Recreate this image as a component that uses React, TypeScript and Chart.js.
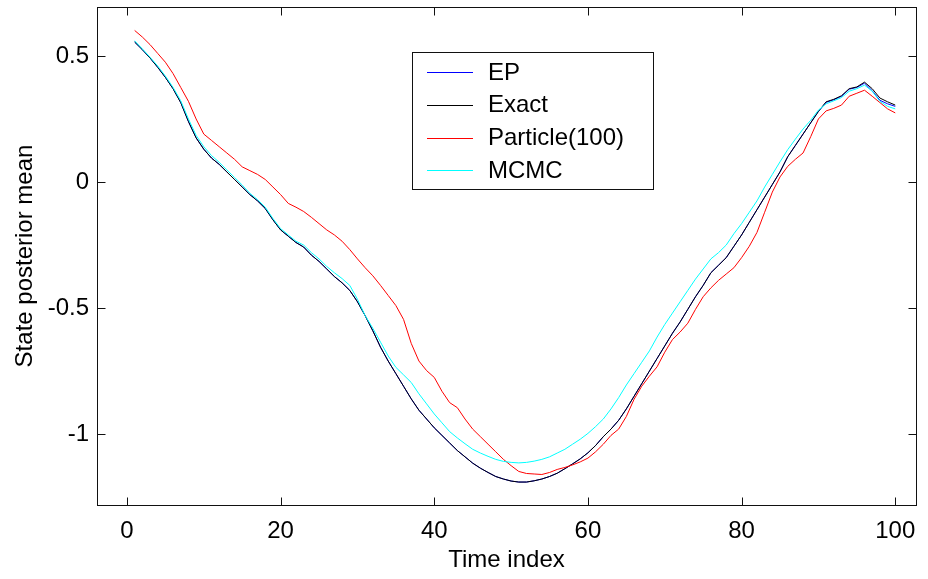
import React, { useEffect, useRef } from "react";
import { Chart, registerables } from "chart.js";

Chart.register(...registerables);

const timeIndex = Array.from({ length: 100 }, (_, i) => i + 1);

const exactMean = [
  0.555, 0.525, 0.492, 0.455, 0.415, 0.37, 0.315, 0.24, 0.175, 0.13,
  0.095, 0.07, 0.04, 0.01, -0.02, -0.05, -0.075, -0.105, -0.15, -0.19,
  -0.215, -0.24, -0.258, -0.29, -0.315, -0.345, -0.375, -0.4, -0.43, -0.475,
  -0.53, -0.59, -0.655, -0.71, -0.76, -0.81, -0.86, -0.905, -0.94, -0.975,
  -1.005, -1.035, -1.065, -1.09, -1.115, -1.135, -1.152, -1.168, -1.178, -1.186,
  -1.19, -1.19, -1.185, -1.178, -1.168, -1.155, -1.137, -1.118, -1.098, -1.074,
  -1.045, -1.01, -0.98, -0.945, -0.9, -0.85, -0.8, -0.75, -0.7, -0.65,
  -0.6, -0.555, -0.505, -0.455, -0.41, -0.36, -0.33, -0.3, -0.255, -0.21,
  -0.16, -0.11, -0.06, -0.01, 0.04, 0.1, 0.145, 0.19, 0.235, 0.28,
  0.318, 0.328, 0.342, 0.37, 0.377, 0.396, 0.37, 0.333, 0.318, 0.305,
];

const epMean = [
  0.555, 0.525, 0.492, 0.455, 0.415, 0.37, 0.315, 0.24, 0.175, 0.13,
  0.095, 0.07, 0.04, 0.01, -0.02, -0.05, -0.075, -0.105, -0.15, -0.19,
  -0.215, -0.24, -0.258, -0.29, -0.315, -0.345, -0.375, -0.4, -0.43, -0.475,
  -0.53, -0.59, -0.655, -0.71, -0.76, -0.81, -0.86, -0.905, -0.94, -0.975,
  -1.005, -1.035, -1.065, -1.09, -1.115, -1.135, -1.152, -1.168, -1.178, -1.186,
  -1.19, -1.19, -1.185, -1.178, -1.168, -1.155, -1.137, -1.118, -1.098, -1.074,
  -1.045, -1.01, -0.98, -0.945, -0.9, -0.85, -0.8, -0.75, -0.7, -0.65,
  -0.6, -0.555, -0.505, -0.455, -0.41, -0.36, -0.33, -0.3, -0.255, -0.21,
  -0.16, -0.11, -0.06, -0.01, 0.04, 0.1, 0.145, 0.19, 0.235, 0.28,
  0.316, 0.326, 0.34, 0.368, 0.375, 0.392, 0.362, 0.324, 0.31, 0.3,
];

const particleMean = [
  0.601, 0.575, 0.545, 0.51, 0.475, 0.43, 0.375, 0.32, 0.25, 0.19,
  0.165, 0.14, 0.115, 0.09, 0.06, 0.045, 0.03, 0.01, -0.02, -0.05,
  -0.085, -0.1, -0.117, -0.14, -0.165, -0.19, -0.21, -0.235, -0.268, -0.305,
  -0.34, -0.372, -0.41, -0.45, -0.49, -0.545, -0.64, -0.71, -0.748, -0.775,
  -0.83, -0.875, -0.895, -0.94, -0.98, -1.01, -1.04, -1.07, -1.1, -1.125,
  -1.148, -1.156, -1.158, -1.16, -1.152, -1.14, -1.132, -1.122, -1.11, -1.095,
  -1.07, -1.04, -1.005, -0.98, -0.93, -0.862, -0.81, -0.77, -0.733, -0.675,
  -0.625, -0.595, -0.56, -0.505, -0.455, -0.42, -0.39, -0.365, -0.34, -0.3,
  -0.255, -0.2, -0.12, -0.04, 0.02, 0.062, 0.09, 0.115, 0.18, 0.25,
  0.282, 0.292, 0.305, 0.34, 0.352, 0.364, 0.34, 0.315, 0.29, 0.274,
];

const mcmcMean = [
  0.56, 0.528, 0.495, 0.46, 0.42, 0.375, 0.322, 0.25, 0.185, 0.14,
  0.105, 0.078, 0.048, 0.018, -0.012, -0.045, -0.07, -0.1, -0.145, -0.185,
  -0.21, -0.235, -0.25, -0.28, -0.305, -0.335, -0.36, -0.383, -0.41, -0.465,
  -0.53, -0.58, -0.635, -0.69, -0.735, -0.765, -0.795, -0.84, -0.88, -0.92,
  -0.955, -0.99, -1.015, -1.038, -1.06, -1.075, -1.088, -1.1, -1.108, -1.112,
  -1.114, -1.112, -1.107, -1.1, -1.09, -1.075, -1.06, -1.04, -1.02, -0.997,
  -0.97, -0.94, -0.9, -0.855, -0.805, -0.76, -0.715, -0.67, -0.615, -0.565,
  -0.52, -0.475, -0.43, -0.385, -0.345, -0.305, -0.28, -0.25, -0.205, -0.165,
  -0.12, -0.075, -0.02, 0.03, 0.08, 0.128, 0.17, 0.21, 0.245, 0.285,
  0.31, 0.322, 0.335, 0.36, 0.37, 0.384, 0.36, 0.32, 0.3, 0.29,
];

const seriesLabels = ["EP", "Exact", "Particle(100)", "MCMC"];
const seriesColors = ["#0000ff", "#000000", "#ff0000", "#00ffff"];
const seriesValues = [epMean, exactMean, particleMean, mcmcMean];
const seriesOrder = [3, 2, 1, 0];

const xTicks = [0, 20, 40, 60, 80, 100];
const yTicks = [-1, -0.5, 0, 0.5];

const FONT = "'Liberation Sans', Arial, Helvetica, sans-serif";
const FONT_SIZE = 24;

const framePlugin = {
  id: "matlabFrame",
  afterDraw(chart: any) {
    const { ctx, chartArea: a, scales } = chart;
    ctx.save();
    ctx.strokeStyle = "#111";
    ctx.lineWidth = 1;
    const L = Math.round(a.left) + 0.5;
    const R = Math.round(a.right) + 0.5;
    const T = Math.round(a.top) + 0.5;
    const B = Math.round(a.bottom) + 0.5;
    ctx.strokeRect(L, T, R - L, B - T);
    const tl = 8;
    ctx.beginPath();
    for (const v of xTicks) {
      const px = Math.round(scales.x.getPixelForValue(v)) + 0.5;
      ctx.moveTo(px, B);
      ctx.lineTo(px, B - tl);
      ctx.moveTo(px, T);
      ctx.lineTo(px, T + tl);
    }
    for (const v of yTicks) {
      const py = Math.round(scales.y.getPixelForValue(v)) + 0.5;
      ctx.moveTo(L, py);
      ctx.lineTo(L + tl, py);
      ctx.moveTo(R, py);
      ctx.lineTo(R - tl, py);
    }
    ctx.stroke();

    // legend box
    const bx = 412.5, by = 52.5, bw = 241, bh = 137;
    ctx.fillStyle = "#fff";
    ctx.fillRect(bx, by, bw, bh);
    ctx.strokeStyle = "#111";
    ctx.strokeRect(bx, by, bw, bh);
    const rowY = [72, 104.5, 137.5, 170];
    ctx.font = `${FONT_SIZE}px ${FONT}`;
    ctx.textBaseline = "middle";
    ctx.textAlign = "left";
    chart.data.datasets.forEach((ds: any, i: number) => {
      const y = Math.round(rowY[i]) + 0.5;
      ctx.strokeStyle = ds.borderColor;
      ctx.lineWidth = 1;
      ctx.beginPath();
      ctx.moveTo(427, y);
      ctx.lineTo(473, y);
      ctx.stroke();
      ctx.fillStyle = "#000";
      ctx.fillText(ds.label, 488, rowY[i] + 1);
    });
    ctx.restore();
  },
};

export default function App() {
  const canvasRef = useRef<HTMLCanvasElement | null>(null);

  useEffect(() => {
    document.body.style.margin = "0";
    const canvas = canvasRef.current;
    if (!canvas) return;
    const chart = new Chart(canvas, {
      type: "line",
      data: {
        datasets: seriesLabels.map((label, i) => ({
          label,
          data: timeIndex.map((t, j) => ({ x: t, y: seriesValues[i][j] })),
          borderColor: seriesColors[i],
          backgroundColor: seriesColors[i],
          borderWidth: 1,
          pointRadius: 0,
          tension: 0,
          fill: false,
          order: seriesOrder[i],
        })),
      },
      options: {
        responsive: false,
        animation: false,
        devicePixelRatio: 1,
        layout: { padding: { top: 7, right: 12, left: 0, bottom: 0 } },
        plugins: {
          legend: { display: false },
          tooltip: { enabled: false },
        },
        scales: {
          x: {
            type: "linear",
            min: -3.9,
            max: 102.7,
            grid: { display: false, drawTicks: false },
            border: { display: false },
            afterBuildTicks: (scale: any) => {
              scale.ticks = xTicks.map((v) => ({ value: v }));
            },
            afterFit: (scale: any) => {
              scale.height = 74;
              scale.paddingLeft = 0;
              scale.paddingRight = 0;
            },
            ticks: {
              padding: 12,
              color: "#000",
              font: { family: FONT, size: FONT_SIZE },
              maxRotation: 0,
              callback: (v: any) => String(v),
            },
            title: {
              display: true,
              text: "Time index",
              color: "#000",
              font: { family: FONT, size: FONT_SIZE },
              padding: { top: 0, bottom: 4 },
            },
          },
          y: {
            type: "linear",
            min: -1.281,
            max: 0.694,
            grid: { display: false, drawTicks: false },
            border: { display: false },
            afterBuildTicks: (scale: any) => {
              scale.ticks = yTicks.map((v) => ({ value: v }));
            },
            afterFit: (scale: any) => {
              scale.width = 97;
              scale.paddingTop = 0;
              scale.paddingBottom = 0;
            },
            ticks: {
              padding: 8,
              color: "#000",
              font: { family: FONT, size: FONT_SIZE },
              callback: (v: any) => String(v),
            },
            title: {
              display: true,
              text: "State posterior mean",
              color: "#000",
              font: { family: FONT, size: FONT_SIZE },
              padding: { top: 11, bottom: 0 },
            },
          },
        },
      },
      plugins: [framePlugin],
    });
    return () => chart.destroy();
  }, []);

  return (
    <div style={{ position: "fixed", left: 0, top: 0, width: 928, height: 579, background: "#fff" }}>
      <canvas ref={canvasRef} width={928} height={579} style={{ display: "block" }} />
    </div>
  );
}
